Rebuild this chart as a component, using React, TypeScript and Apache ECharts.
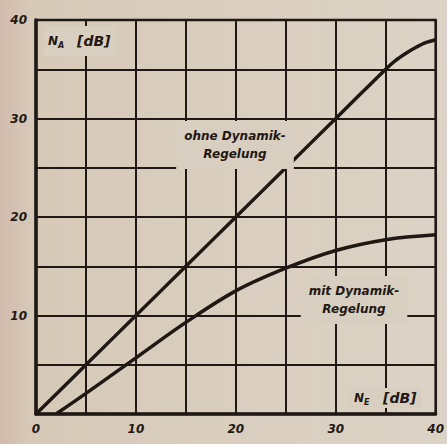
import React, { useEffect, useRef } from "react";
import * as echarts from "echarts";

// Input level N_E [dB] and output level N_A [dB]
const ohneX = [0, 5, 10, 15, 20, 25, 30, 35, 36, 37, 38, 39, 40];
const ohneY = [0, 5, 10, 15, 20, 25, 30, 35, 35.9, 36.6, 37.2, 37.7, 38];
const mitX = [2, 5, 10, 15, 20, 25, 30, 35, 40];
const mitY = [0, 2.1, 5.7, 9.3, 12.5, 14.8, 16.6, 17.7, 18.2];
const xTickLabels = [0, 10, 20, 30, 40];
const yTickLabels = [10, 20, 30, 40];

const INK = "#1f1813";
const PAPER = "#d9cfc0";
const FONT = "DejaVu Sans";

export default function App() {
  const ref = useRef<HTMLDivElement>(null);
  useEffect(() => {
    if (!ref.current) return;
    const chart = echarts.init(ref.current, null, { renderer: "svg" });
    const labelText = (x: number, y: number, lines: string[]) => ({
      type: "text",
      x,
      y,
      z: 20,
      style: {
        text: lines.join("\n"),
        fill: INK,
        font: `italic bold 12px "${FONT}"`,
        align: "center",
        verticalAlign: "middle",
        lineHeight: 18,
        backgroundColor: PAPER,
        padding: [6, 8],
      },
    });
    const subLabel = (x: number, y: number, sub: string, padV: number) => ({
      type: "group",
      x,
      y,
      z: 20,
      children: [
        {
          type: "rect",
          shape: { x: -4, y: -padV, width: 72, height: padV * 2 },
          style: { fill: PAPER },
          z: 20,
        },
        {
          type: "text",
          x: 0,
          y: 0,
          z: 21,
          style: { text: "N", fill: INK, font: `italic bold 12px "${FONT}"`, verticalAlign: "middle" },
        },
        {
          type: "text",
          x: 10,
          y: 4,
          z: 21,
          style: { text: sub, fill: INK, font: `italic bold 8px "${FONT}"`, verticalAlign: "middle" },
        },
        {
          type: "text",
          x: 29,
          y: 0,
          z: 21,
          style: { text: "[dB]", fill: INK, font: `italic bold 14px "${FONT}"`, verticalAlign: "middle" },
        },
      ],
    });
    chart.setOption({
      animation: false,
      backgroundColor: new echarts.graphic.LinearGradient(0, 0, 1, 0, [
        { offset: 0, color: "#d1bbad" },
        { offset: 0.07, color: "#d7c9b8" },
        { offset: 1, color: "#dcd3c6" },
      ]),
      grid: {
        left: 36,
        right: 8,
        top: 20,
        bottom: 30,
        show: true,
        borderColor: INK,
        borderWidth: 2.5,
        backgroundColor: "transparent",
      },
      xAxis: {
        type: "value",
        min: 0,
        max: 40,
        interval: 5,
        axisLine: { show: true, lineStyle: { color: INK, width: 3.5 } },
        axisTick: { show: false },
        splitLine: { show: true, lineStyle: { color: INK, width: 2 } },
        axisLabel: {
          margin: 9,
          color: INK,
          fontFamily: FONT,
          fontStyle: "italic",
          fontWeight: "bold",
          fontSize: 12,
          formatter: (v: number) => (xTickLabels.includes(v) ? String(v) : ""),
        },
      },
      yAxis: {
        type: "value",
        min: 0,
        max: 40,
        interval: 5,
        axisLine: { show: true, lineStyle: { color: INK, width: 3.5 } },
        axisTick: { show: false },
        splitLine: { show: true, lineStyle: { color: INK, width: 2 } },
        axisLabel: {
          margin: 9,
          color: INK,
          fontFamily: FONT,
          fontStyle: "italic",
          fontWeight: "bold",
          fontSize: 12,
          formatter: (v: number) => (yTickLabels.includes(v) ? String(v) : ""),
        },
      },
      series: [
        {
          name: "ohne Dynamik-Regelung",
          type: "line",
          data: ohneX.map((x, i) => [x, ohneY[i]]),
          smooth: 0.25,
          symbol: "none",
          lineStyle: { color: INK, width: 3.5 },
          z: 5,
        },
        {
          name: "mit Dynamik-Regelung",
          type: "line",
          data: mitX.map((x, i) => [x, mitY[i]]),
          smooth: 0.35,
          symbol: "none",
          lineStyle: { color: INK, width: 3.5 },
          z: 5,
        },
      ],
      graphic: [
        labelText(235, 145, ["ohne Dynamik-", "Regelung"]),
        labelText(354, 300, ["mit Dynamik-", "Regelung"]),
        subLabel(48, 41, "A", 15),
        subLabel(354, 398, "E", 10),
      ],
    });
    return () => chart.dispose();
  }, []);
  return (
    <div
      ref={ref}
      style={{ position: "fixed", left: 0, top: 0, width: 447, height: 444 }}
    />
  );
}
